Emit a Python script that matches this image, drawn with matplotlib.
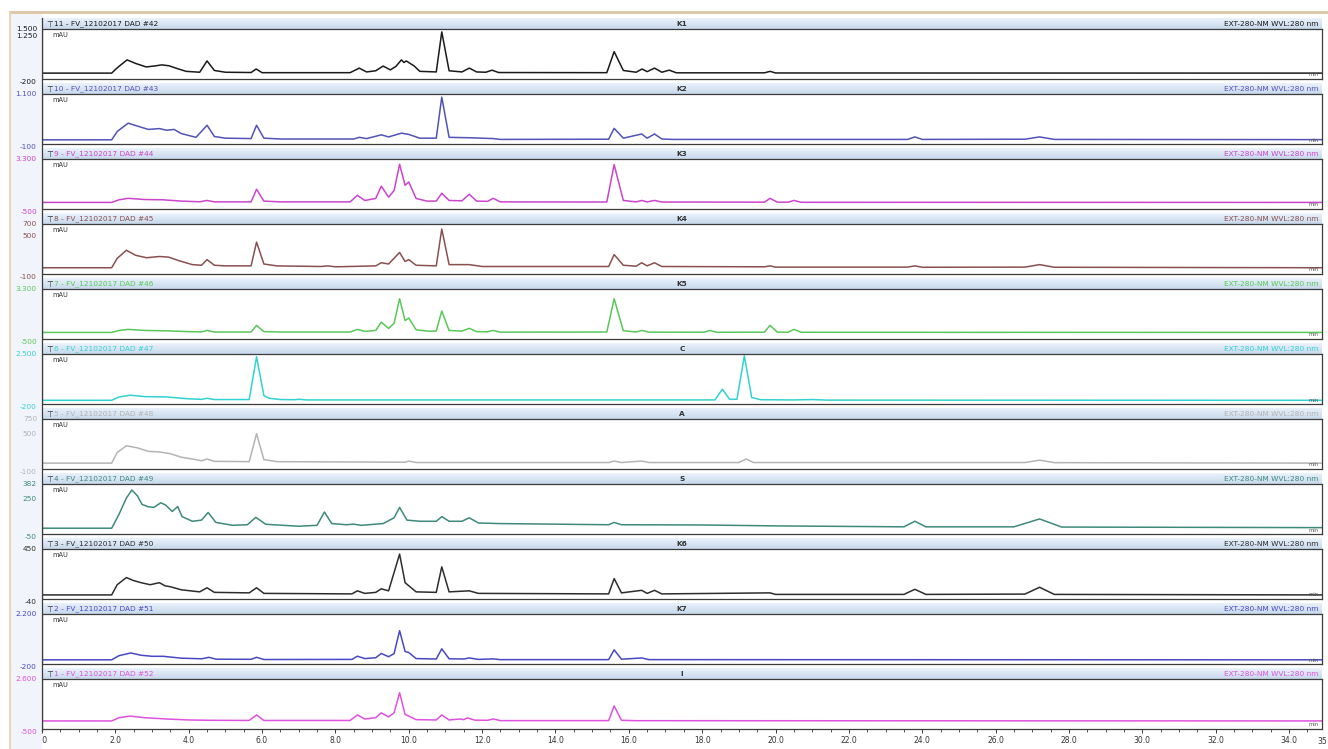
import matplotlib.pyplot as plt
import numpy as np
from matplotlib.ticker import MultipleLocator, FixedLocator
from matplotlib.patches import Rectangle
from matplotlib.lines import Line2D

# chromatogram traces, (retention time [min], signal [mAU]), top panel first
K1 = [(0, 0), (1.9, 0), (2.05, 180), (2.32, 450), (2.55, 330), (2.84, 210), (3.05, 240), (3.27, 280),
      (3.46, 250), (3.7, 150), (3.93, 60), (4.3, 30), (4.5, 415), (4.7, 90), (5.0, 30), (5.7, 20),
      (5.84, 140), (6.0, 15), (8.4, 15), (8.65, 170), (8.85, 40), (9.1, 80), (9.3, 240), (9.5, 110),
      (9.65, 230), (9.8, 450), (9.87, 360), (9.93, 415), (10.15, 240), (10.3, 60), (10.75, 40),
      (10.9, 1400), (11.1, 80), (11.45, 40), (11.65, 170), (11.85, 40), (12.1, 30), (12.27, 100),
      (12.45, 20), (15.4, 15), (15.6, 730), (15.85, 90), (16.2, 30), (16.36, 140), (16.5, 50),
      (16.7, 170), (16.9, 30), (17.1, 100), (17.3, 10), (19.7, 10), (19.85, 60), (20.0, 5), (34.9, 0)]
K2 = [(0, 0), (1.9, 0), (2.05, 200), (2.35, 400), (2.6, 330), (2.9, 250), (3.2, 270), (3.4, 230),
      (3.6, 250), (3.8, 150), (4.2, 60), (4.5, 350), (4.7, 80), (5.0, 40), (5.7, 30), (5.85, 350),
      (6.05, 40), (6.5, 20), (8.5, 20), (8.65, 60), (8.85, 30), (9.25, 120), (9.45, 70), (9.8, 160),
      (10.0, 130), (10.3, 40), (10.75, 40), (10.9, 1025), (11.1, 60), (11.65, 50), (12.3, 30),
      (12.5, 10), (15.45, 15), (15.6, 275), (15.85, 40), (16.35, 140), (16.5, 40), (16.7, 140),
      (16.9, 20), (17.2, 10), (23.6, 10), (23.8, 70), (24.0, 10), (26.8, 15), (27.2, 70), (27.6, 10),
      (34.9, 5)]
K3 = [(0, 0), (1.9, 0), (2.1, 200), (2.35, 310), (2.8, 220), (3.3, 200), (3.8, 100), (4.3, 50),
      (4.5, 150), (4.7, 40), (5.7, 40), (5.85, 1000), (6.05, 100), (6.5, 40), (8.4, 40), (8.6, 540),
      (8.8, 150), (9.1, 300), (9.25, 1240), (9.45, 400), (9.6, 900), (9.75, 2900), (9.9, 1300),
      (10.0, 1550), (10.2, 300), (10.5, 100), (10.75, 100), (10.9, 700), (11.1, 150), (11.45, 120),
      (11.65, 620), (11.85, 100), (12.15, 80), (12.3, 310), (12.5, 40), (15.4, 30), (15.6, 2870),
      (15.85, 150), (16.2, 40), (16.35, 150), (16.5, 40), (16.7, 150), (16.9, 30), (19.7, 20),
      (19.85, 310), (20.05, 20), (20.35, 20), (20.5, 150), (20.7, 10), (34.9, 0)]
K4 = [(0, 0), (1.9, 0), (2.05, 150), (2.3, 280), (2.55, 200), (2.85, 160), (3.2, 180), (3.45, 170),
      (3.75, 110), (4.1, 50), (4.35, 40), (4.5, 130), (4.7, 40), (5.0, 30), (5.7, 30), (5.85, 410),
      (6.05, 60), (6.4, 30), (7.6, 20), (7.8, 30), (8.0, 15), (9.1, 30), (9.25, 80), (9.45, 60),
      (9.75, 245), (9.9, 100), (10.0, 130), (10.2, 40), (10.75, 30), (10.9, 620), (11.1, 50),
      (11.65, 50), (12.0, 20), (15.45, 20), (15.6, 210), (15.85, 40), (16.2, 25), (16.35, 80),
      (16.5, 30), (16.7, 80), (16.9, 20), (19.7, 15), (19.85, 30), (20.0, 10), (23.6, 10), (23.8, 30),
      (24.0, 8), (26.8, 10), (27.2, 50), (27.6, 8), (34.9, 0)]
K5 = [(0, 0), (1.9, 0), (2.1, 150), (2.35, 230), (2.8, 150), (3.4, 120), (4.0, 60), (4.35, 40),
      (4.5, 150), (4.7, 30), (5.7, 30), (5.85, 540), (6.05, 60), (6.5, 30), (8.4, 30), (8.6, 230),
      (8.8, 80), (9.1, 150), (9.25, 780), (9.45, 300), (9.6, 700), (9.75, 2560), (9.9, 900),
      (10.0, 1090), (10.2, 200), (10.5, 100), (10.75, 100), (10.9, 1630), (11.1, 150), (11.45, 100),
      (11.65, 310), (11.85, 60), (12.15, 50), (12.3, 150), (12.5, 20), (15.4, 30), (15.6, 2560),
      (15.85, 130), (16.2, 30), (16.35, 150), (16.55, 20), (18.05, 15), (18.2, 150), (18.4, 10),
      (19.7, 20), (19.85, 540), (20.05, 20), (20.35, 20), (20.5, 230), (20.7, 10), (34.9, 0)]
C = [(0, 0), (1.9, 0), (2.1, 180), (2.4, 275), (2.8, 200), (3.4, 180), (4.0, 80), (4.35, 50),
     (4.5, 110), (4.7, 40), (5.65, 40), (5.85, 2350), (6.05, 250), (6.2, 110), (6.5, 40), (6.9, 30),
     (7.0, 60), (7.2, 20), (18.35, 20), (18.55, 600), (18.75, 50), (18.95, 60), (19.15, 2400),
     (19.35, 150), (19.6, 30), (20.5, 20), (21.0, 40), (21.4, 10), (34.9, 0)]
A = [(0, 0), (1.9, 0), (2.05, 180), (2.3, 295), (2.6, 260), (2.9, 200), (3.2, 190), (3.5, 160),
     (3.8, 100), (4.1, 70), (4.35, 40), (4.5, 70), (4.7, 30), (5.65, 25), (5.85, 500), (6.05, 60),
     (6.4, 25), (9.9, 15), (10.0, 35), (10.2, 10), (15.45, 10), (15.6, 35), (15.8, 10), (16.35, 35),
     (16.55, 10), (19.0, 10), (19.2, 70), (19.4, 10), (26.8, 10), (27.2, 50), (27.6, 8), (34.9, 0)]
S = [(0, 0), (1.9, 0), (2.1, 120), (2.3, 260), (2.45, 330), (2.6, 280), (2.73, 205), (2.9, 185),
     (3.05, 180), (3.24, 220), (3.37, 200), (3.55, 145), (3.7, 187), (3.82, 100), (4.1, 60),
     (4.35, 70), (4.53, 136), (4.74, 50), (5.2, 25), (5.6, 30), (5.83, 94), (6.1, 34), (7.0, 17),
     (7.5, 25), (7.7, 140), (7.9, 40), (8.3, 30), (8.5, 35), (8.7, 25), (9.3, 40), (9.6, 90),
     (9.75, 180), (9.95, 70), (10.3, 60), (10.75, 60), (10.9, 100), (11.1, 60), (11.45, 60),
     (11.65, 90), (11.9, 45), (12.5, 40), (14.0, 35), (15.45, 30), (15.6, 50), (15.8, 30), (18.0, 28),
     (20.0, 20), (23.5, 12), (23.8, 60), (24.1, 12), (26.5, 12), (27.2, 80), (27.8, 10), (34.9, 5)]
K6 = [(0, 0), (1.9, 0), (2.05, 100), (2.3, 170), (2.5, 140), (2.7, 120), (2.95, 100), (3.2, 120),
      (3.35, 90), (3.5, 80), (3.8, 50), (4.3, 30), (4.5, 70), (4.7, 25), (5.65, 20), (5.85, 70),
      (6.05, 15), (8.45, 10), (8.6, 40), (8.8, 15), (9.1, 25), (9.25, 60), (9.45, 40), (9.75, 400),
      (9.9, 120), (10.0, 90), (10.2, 30), (10.75, 25), (10.9, 275), (11.1, 30), (11.65, 40),
      (11.9, 15), (15.45, 10), (15.6, 160), (15.8, 20), (16.35, 45), (16.5, 15), (16.7, 45),
      (16.9, 10), (19.85, 20), (20.0, 5), (23.5, 5), (23.8, 55), (24.1, 5), (26.8, 8), (27.2, 75),
      (27.6, 5), (34.9, 0)]
K7 = [(0, 0), (1.9, 0), (2.1, 200), (2.42, 330), (2.7, 220), (3.0, 170), (3.3, 170), (3.8, 80),
      (4.35, 50), (4.55, 120), (4.75, 30), (5.7, 25), (5.85, 120), (6.05, 15), (8.45, 20), (8.6, 175),
      (8.8, 60), (9.1, 100), (9.25, 305), (9.45, 150), (9.6, 300), (9.75, 1400), (9.9, 400),
      (10.0, 350), (10.2, 60), (10.75, 40), (10.9, 530), (11.1, 50), (11.5, 40), (11.65, 90),
      (11.9, 20), (12.3, 45), (12.5, 10), (15.45, 10), (15.6, 480), (15.8, 30), (16.35, 90),
      (16.55, 10), (34.9, 0)]
I = [(0, 0), (1.9, 0), (2.1, 200), (2.4, 300), (2.8, 200), (3.4, 120), (4.0, 60), (4.6, 40),
     (5.65, 30), (5.85, 370), (6.05, 30), (8.4, 30), (8.6, 370), (8.8, 120), (9.1, 200), (9.25, 500),
     (9.45, 250), (9.6, 500), (9.75, 1750), (9.9, 400), (10.0, 300), (10.2, 80), (10.75, 60),
     (10.9, 370), (11.1, 60), (11.4, 120), (11.5, 80), (11.6, 190), (11.8, 50), (12.15, 40),
     (12.3, 120), (12.5, 20), (15.45, 20), (15.6, 930), (15.8, 40), (16.2, 15), (34.9, 0)]

traces = [K1, K2, K3, K4, K5, C, A, S, K6, K7, I]
names = ['K1', 'K2', 'K3', 'K4', 'K5', 'C', 'A', 'S', 'K6', 'K7', 'I']
runs = ['11 - FV_12102017 DAD #42', '10 - FV_12102017 DAD #43', '9 - FV_12102017 DAD #44',
        '8 - FV_12102017 DAD #45', '7 - FV_12102017 DAD #46', '6 - FV_12102017 DAD #47',
        '5 - FV_12102017 DAD #48', '4 - FV_12102017 DAD #49', '3 - FV_12102017 DAD #50',
        '2 - FV_12102017 DAD #51', '1 - FV_12102017 DAD #52']
y_lo = [-200, -100, -500, -100, -500, -200, -100, -50, -40, -200, -500]
y_hi = [1500, 1100, 3300, 700, 3300, 2500, 750, 382, 450, 2200, 2600]
y_lo_txt = ['-200', '-100', '-500', '-100', '-500', '-200', '-100', '-50', '-40', '-200', '-500']
y_hi_txt = ['1.500', '1.100', '3.300', '700', '3.300', '2.500', '750', '382', '450', '2.200', '2.600']
y_mid = [1250, None, None, 500, None, None, 500, 250, None, None, None]
y_mid_txt = ['1.250', '', '', '500', '', '', '500', '250', '', '', '']
colors = ['#1a1a1a', '#5252b8', '#cc44cc', '#8a5050', '#58c858', '#33d2d2',
          '#b4b4b4', '#3d8a7a', '#2d2d2d', '#4848c4', '#de52de']
channel = 'EXT-280-NM WVL:280 nm'

W, H = 1328, 749
X0, X1 = 42, 1322
fig = plt.figure(figsize=(W / 100, H / 100), dpi=100, facecolor='white')

# window frame of the screenshot
fig.patches.append(Rectangle((10 / W, 0), (X0 - 10) / W, 1 - 13 / H, transform=fig.transFigure,
                             facecolor='#f1f4fa', edgecolor='none', zorder=0))
fig.add_artist(Line2D([10 / W, 1], [1 - 12 / H, 1 - 12 / H], color='#dcc4a4', lw=2))
fig.add_artist(Line2D([10 / W, 10 / W], [0, 1 - 12 / H], color='#e6d6bc', lw=1.5))
fig.add_artist(Line2D([X0 / W, X0 / W], [1 - 731 / H, 1 - 18 / H], color='#3c3c3c', lw=0.9))

grad = np.linspace(0, 1, 20)[:, None]
c_top = np.array([0.92, 0.95, 0.99])
c_bot = np.array([0.78, 0.85, 0.92])
grad_img = (c_top[None, None, :] * (1 - grad[:, :, None]) + c_bot[None, None, :] * grad[:, :, None])

for i in range(11):
    top = 18 + 65 * i
    col = colors[i]

    # header strip
    hx = fig.add_axes([X0 / W, 1 - (top + 11) / H, (X1 - X0) / W, 11 / H])
    hx.imshow(grad_img, aspect='auto', extent=[0, 1, 0, 1])
    hx.set_xlim(0, 1)
    hx.set_ylim(0, 1)
    hx.axis('off')
    hx.text(0.0035, 0.45, '\u22a4', color='#222222', fontsize=5.5, va='center', ha='left')
    hx.text(0.009, 0.45, runs[i], color=col, fontsize=5.3, va='center', ha='left')
    hx.text(0.5, 0.45, names[i], color='#333333', fontsize=5.3, va='center', ha='center',
            fontweight='bold')
    hx.text(0.997, 0.45, channel, color=col, fontsize=5.3, va='center', ha='right')

    # trace area
    ax = fig.add_axes([X0 / W, 1 - (top + 61) / H, (X1 - X0) / W, 50 / H])
    t, v = zip(*traces[i])
    ax.plot(t, v, color=col, lw=1.1, solid_joinstyle='round')
    ax.set_xlim(0, 34.9)
    ax.set_ylim(y_lo[i], y_hi[i])
    for s in ax.spines.values():
        s.set_color('#3c3c3c')
        s.set_linewidth(0.9)
    major = [y_lo[i], y_hi[i]] + ([y_mid[i]] if y_mid[i] is not None else [])
    ax.yaxis.set_major_locator(FixedLocator(major))
    ax.yaxis.set_minor_locator(MultipleLocator((y_hi[i] - y_lo[i]) / 10))
    ax.tick_params(axis='y', which='major', length=3, width=0.7, labelleft=False, color='#3c3c3c')
    ax.tick_params(axis='y', which='minor', length=1.8, width=0.6, color='#3c3c3c')
    ax.text(0.008, 0.84, 'mAU', transform=ax.transAxes, fontsize=4.8, color='#333333')
    ax.text(0.997, 0.05, 'min', transform=ax.transAxes, fontsize=3.8, color='#555555', ha='right')

    # y labels in the trace colour
    fig.text(37 / W, 1 - (top + 11) / H, y_hi_txt[i], color=col, fontsize=5.3, ha='right', va='center')
    fig.text(37 / W, 1 - (top + 64) / H, y_lo_txt[i], color=col, fontsize=5.3, ha='right', va='center')
    if y_mid[i] is not None:
        frac = (y_mid[i] - y_lo[i]) / (y_hi[i] - y_lo[i])
        fig.text(37 / W, 1 - (top + 61 - 50 * frac) / H, y_mid_txt[i], color=col, fontsize=5.3,
                 ha='right', va='center')

    if i < 10:
        ax.tick_params(axis='x', which='both', bottom=False, labelbottom=False)
    else:
        ax.xaxis.set_major_locator(MultipleLocator(2))
        ax.xaxis.set_minor_locator(MultipleLocator(0.5))
        ax.xaxis.set_major_formatter(lambda x, p: '%.1f' % x)
        ax.tick_params(axis='x', which='major', length=3, width=0.7, labelsize=5.5,
                       labelcolor='#333333', pad=2, color='#3c3c3c')
        ax.tick_params(axis='x', which='minor', length=1.8, width=0.6, color='#3c3c3c')
        fig.text(1327 / W, 1 - 741 / H, '35', fontsize=5.5, color='#333333', ha='right', va='center')

fig.savefig('out.png', dpi=100, facecolor=fig.get_facecolor())
